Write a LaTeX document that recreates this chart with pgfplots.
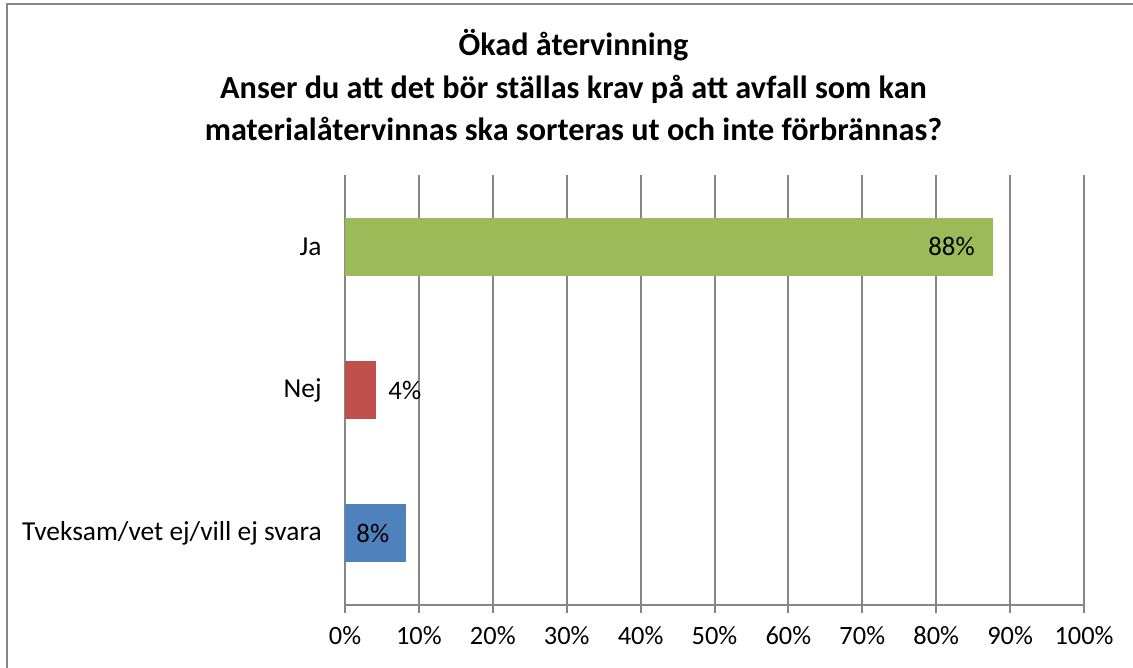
\documentclass[border=0pt]{standalone}
\usepackage{pgfplots}
\pgfplotsset{compat=1.18}
\usepackage{fontspec}
\setmainfont{Carlito}
\definecolor{gridgray}{HTML}{868686}
\definecolor{jagreen}{HTML}{9BBB59}
\definecolor{nejred}{HTML}{C0504D}
\definecolor{tvblue}{HTML}{4F81BD}
\begin{document}
\begin{tikzpicture}
\begin{axis}[
  at={(172.5pt,31.5pt)}, anchor=south west,
  scale only axis, width=369.5pt, height=215pt,
  xbar, bar shift=0pt, bar width=0.406,
  xmin=0, xmax=100, ymin=0.5, ymax=3.5,
  axis x line*=bottom, axis y line*=left,
  axis line style={gridgray, line width=1pt},
  xtick={0,10,...,100},
  xticklabel={\pgfmathprintnumber[fixed,precision=0]{\tick}\%},
  xmajorgrids, grid style={gridgray, line width=1pt},
  tick align=outside,
  major tick length=4pt, minor tick length=4pt,
  xtick style={gridgray, line width=1pt},
  ytick={1,2,3},
  yticklabels={Tveksam/vet ej/vill ej svara, Nej, Ja},
  ytick style={draw=none},
  minor ytick={0.5,1.5,2.5,3.5},
  minor tick style={gridgray, line width=1pt},
  xticklabel style={font=\fontsize{13.2}{15}\selectfont, text=black, inner sep=0pt, anchor=north, yshift=-6.5pt},
  yticklabel style={font=\fontsize{13.7}{15}\selectfont, text=black, inner sep=0pt, anchor=east, xshift=-7.5pt},
  /pgf/number format/assume math mode=true,
  clip=false,
  nodes near coords={\pgfmathprintnumber[fixed,precision=0]{\pgfplotspointmeta}\%},
  every node near coord/.append style={font=\fontsize{13.4}{15}\selectfont, text=black, inner sep=0pt},
]
\addplot[fill=tvblue, draw=none, nodes near coords style={anchor=east, xshift=-8pt}] coordinates {(8.2,1)};
\addplot[fill=nejred, draw=none, nodes near coords style={anchor=west, xshift=6pt}] coordinates {(4.2,2)};
\addplot[fill=jagreen, draw=none, nodes near coords style={anchor=east, xshift=-9pt}] coordinates {(87.7,3)};
\end{axis}
\node[anchor=base, font=\bfseries\fontsize{16.1}{18}\selectfont] at (286.75pt,306pt) {Ökad återvinning};
\node[anchor=base, font=\bfseries\fontsize{16.1}{18}\selectfont] at (286.75pt,284.5pt) {Anser du att det bör ställas krav på att avfall som kan};
\node[anchor=base, font=\bfseries\fontsize{16.1}{18}\selectfont] at (286.75pt,263.5pt) {materialåtervinnas ska sorteras ut och inte förbrännas?};
\draw[gridgray, line width=1pt] (3.5pt,0pt) -- (3.5pt,331.75pt) -- (566.5pt,331.75pt);
\pgfresetboundingbox
\useasboundingbox (0,0) rectangle (566.5pt,334pt);
\end{tikzpicture}
\end{document}
